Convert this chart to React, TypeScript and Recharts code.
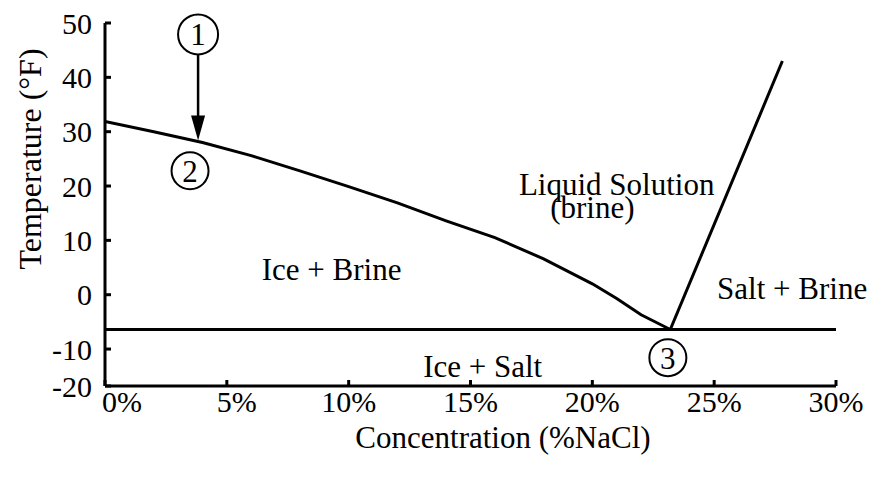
import React from 'react';
import {
  LineChart,
  Line,
  XAxis,
  YAxis,
  ReferenceLine,
  ReferenceDot,
  Customized,
} from 'recharts';

// Freezing-point (ice) line: concentration (%NaCl) vs temperature (°F)
const iceConc = [0, 2, 4, 6, 8, 10, 12, 14, 16, 18, 20, 21, 22, 23.2];
const iceTemp = [31.9, 30.0, 28.0, 25.6, 22.8, 19.9, 16.9, 13.6, 10.5, 6.6, 2.0, -0.7, -3.7, -6.4];

// Salt solubility line
const saltConc = [23.2, 27.8];
const saltTemp = [-6.4, 43];

// Eutectic temperature
const eutecticTemp = -6.4;

const xTicks = [0, 5, 10, 15, 20, 25, 30];
const xTickLabels = ['0%', '5%', '10%', '15%', '20%', '25%', '30%'];
const yTicks = [-16.8, -10, 0, 10, 20, 30, 40, 50];
const yTickLabels = ['-20', '-10', '0', '10', '20', '30', '40', '50'];

// Region labels
const regionNames = ['Liquid Solution', '(brine)', 'Ice + Brine', 'Salt + Brine', 'Ice + Salt'];
const regionConc = [21.0, 20.0, 9.3, 28.2, 15.5];
const regionTemp = [20.4, 16.1, 4.8, 1.3, -13.2];

// Numbered markers
const markerNames = ['1', '2', '3'];
const markerConc = [3.82, 3.49, 23.1];
const markerTemp = [47.9, 22.8, -11.6];

// Arrow from 1 to 2
const arrowConc = 3.82;
const arrowFrom = 44.2;
const arrowTo = 28.4;

const iceData = iceConc.map((c, i) => ({ c, t: iceTemp[i] }));
const saltData = saltConc.map((c, i) => ({ c, t: saltTemp[i] }));

const FONT = 'Liberation Serif, Times New Roman, serif';
const FS = 31;
const TFS = 30;
const xTickShift = [17, 10, 0, 0, 0, 0, 0];

const ArrowHead = (props: any) => {
  const { cx, cy } = props;
  return <path d={`M${cx},${cy} L${cx - 7},${cy - 25} L${cx + 7},${cy - 25} Z`} fill="#000" />;
};

const XTick = (props: any) => {
  const { x, y, payload } = props;
  const i = xTicks.indexOf(payload.value);
  return (
    <text
      x={x + (xTickShift[i] || 0)}
      y={y}
      dy="0.72em"
      textAnchor="middle"
      fontFamily={FONT}
      fontSize={TFS}
      fill="#000"
    >
      {xTickLabels[i]}
    </text>
  );
};

const Titles = () => (
  <g>
    <text
      x={30}
      y={159}
      transform="rotate(-90, 30, 159)"
      textAnchor="middle"
      dominantBaseline="central"
      fontFamily={FONT}
      fontSize={32}
      fill="#000"
    >
      Temperature (°F)
    </text>
    <text
      x={503}
      y={437}
      textAnchor="middle"
      dominantBaseline="central"
      fontFamily={FONT}
      fontSize={FS}
      fill="#000"
    >
      Concentration (%NaCl)
    </text>
  </g>
);

export default function App() {
  return (
    <div style={{ position: 'absolute', left: 0, top: 0, background: '#fff' }}>
      <LineChart width={881} height={483} margin={{ top: 23, right: 45, bottom: 0, left: 0 }}>
        <XAxis
          type="number"
          dataKey="c"
          domain={[0, 30]}
          ticks={xTicks}
          height={97}
          axisLine={{ stroke: '#000', strokeWidth: 3 }}
          tickLine={{ stroke: '#000', strokeWidth: 3 }}
          tickSize={-6}
          tickMargin={10}
          tick={<XTick />}
          interval={0}
          allowDataOverflow
        />
        <YAxis
          type="number"
          dataKey="t"
          domain={[-16.8, 50]}
          ticks={yTicks}
          tickFormatter={(v: number) => yTickLabels[yTicks.indexOf(v)]}
          width={105}
          axisLine={{ stroke: '#000', strokeWidth: 3 }}
          tickLine={{ stroke: '#000', strokeWidth: 3 }}
          tickSize={-6}
          tickMargin={19}
          tick={{ fill: '#000', fontSize: TFS, fontFamily: FONT }}
          interval={0}
          allowDataOverflow
        />
        <ReferenceLine y={eutecticTemp} stroke="#000" strokeWidth={3} />
        <Line
          data={iceData}
          dataKey="t"
          type="linear"
          stroke="#000"
          strokeWidth={3}
          dot={false}
          isAnimationActive={false}
        />
        <Line
          data={saltData}
          dataKey="t"
          type="linear"
          stroke="#000"
          strokeWidth={3}
          dot={false}
          isAnimationActive={false}
        />
        <ReferenceLine
          segment={[
            { x: arrowConc, y: arrowFrom },
            { x: arrowConc, y: arrowTo + 3 },
          ]}
          stroke="#000"
          strokeWidth={2.5}
        />
        <ReferenceDot x={arrowConc} y={arrowTo} shape={ArrowHead} />
        {regionNames.map((n, i) => (
          <ReferenceDot
            key={n}
            x={regionConc[i]}
            y={regionTemp[i]}
            r={0}
            fill="none"
            stroke="none"
            label={{ value: n, position: 'center', fill: '#000', fontSize: FS, fontFamily: FONT }}
          />
        ))}
        {markerNames.map((n, i) => (
          <ReferenceDot
            key={'m' + n}
            x={markerConc[i]}
            y={markerTemp[i]}
            r={i === 0 ? 20 : 18.5}
            fill="#fff"
            stroke="#000"
            strokeWidth={2}
            label={{ value: n, position: 'center', fill: '#000', fontSize: FS, fontFamily: FONT }}
          />
        ))}
        <Customized component={Titles} />
      </LineChart>
    </div>
  );
}
